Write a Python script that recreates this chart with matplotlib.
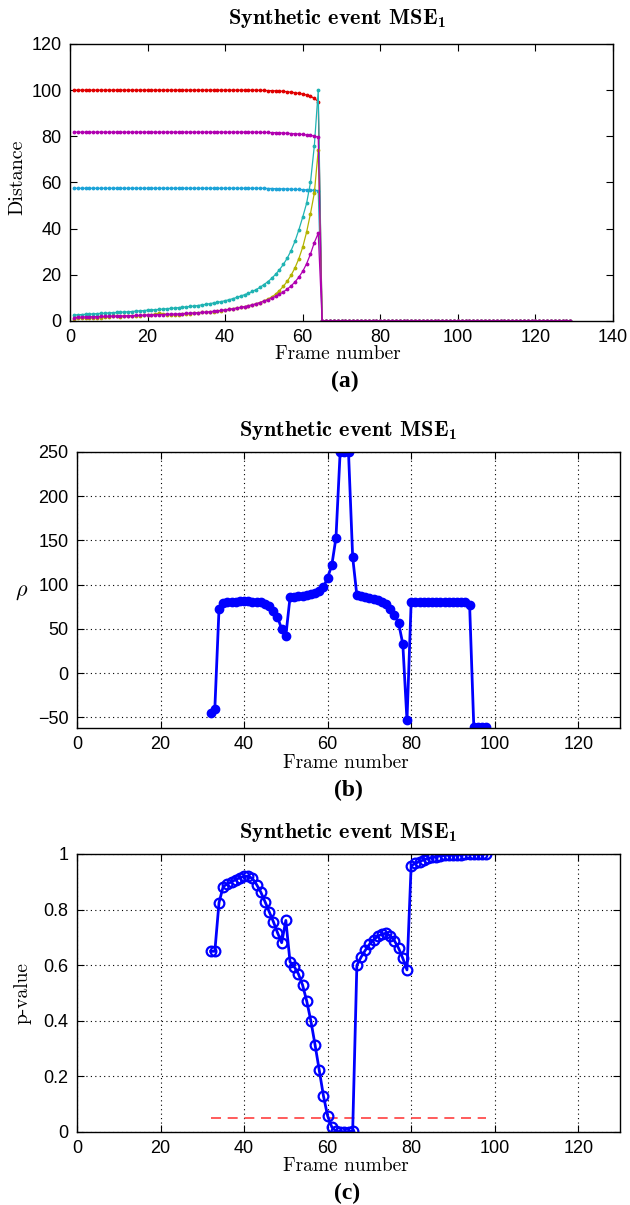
import matplotlib
matplotlib.use("Agg")
import matplotlib.pyplot as plt
from matplotlib.ticker import FuncFormatter

# ---- panel (a): distance curves, frames 1..129 ----
frames_a = list(range(1, 130))
zero_tail = [0.0] * 65  # frames 65..129

red_a = [100.0] * 48 + [
    99.9, 99.9, 99.8, 99.8, 99.7, 99.6, 99.5, 99.3, 99.1, 98.9,
    98.6, 98.3, 97.9, 97.3, 96.5, 95.0] + zero_tail
mag_a = [81.8] * 48 + [
    81.7, 81.7, 81.7, 81.6, 81.6, 81.5, 81.4, 81.3, 81.2, 81.1,
    81.0, 80.8, 80.6, 80.4, 80.1, 79.6] + zero_tail
blue_a = [57.5] * 50 + [
    57.4, 57.4, 57.3, 57.3, 57.2, 57.2, 57.1, 57.0, 57.0, 56.9,
    56.8, 56.7, 56.6, 56.5] + zero_tail
cyan_a = [
    2.6, 2.7, 2.8, 2.9, 3.0, 3.1, 3.2, 3.3, 3.4, 3.5,
    3.6, 3.7, 3.8, 3.9, 4.0, 4.1, 4.3, 4.4, 4.5, 4.7,
    4.8, 4.9, 5.0, 5.2, 5.3, 5.5, 5.6, 5.8, 6.0, 6.1,
    6.3, 6.5, 6.7, 7.0, 7.2, 7.5, 7.8, 8.1, 8.4, 8.8,
    9.2, 9.7, 10.2, 10.8, 11.4, 12.0, 12.8, 13.6, 14.6, 15.8,
    17.0, 18.5, 20.2, 22.2, 24.5, 27.2, 30.5, 34.5, 39.5, 45.0,
    51.0, 60.0, 76.0, 100.0] + zero_tail
olive_a = [
    1.0, 1.1, 1.2, 1.3, 1.3, 1.4, 1.4, 1.5, 1.6, 1.8,
    2.2, 2.0, 1.9, 2.0, 2.1, 2.2, 2.2, 2.3, 2.4, 2.5,
    2.7, 3.0, 3.4, 3.2, 2.8, 2.7, 2.7, 2.8, 3.0, 3.1,
    3.2, 3.3, 3.5, 3.8, 3.7, 3.8, 4.0, 4.2, 4.5, 4.8,
    5.0, 5.3, 5.6, 5.9, 6.2, 6.5, 6.9, 7.4, 8.0, 8.7,
    9.5, 10.4, 11.6, 13.2, 15.0, 17.2, 19.8, 23.0, 27.0, 32.0,
    38.5, 46.5, 55.5, 74.0] + zero_tail
mag2_a = [
    1.5, 1.6, 1.7, 1.8, 1.8, 1.9, 1.9, 2.0, 2.0, 2.1,
    2.1, 2.1, 2.2, 2.2, 2.3, 2.3, 2.4, 2.4, 2.5, 2.6,
    2.6, 2.7, 2.8, 2.8, 2.9, 3.0, 3.0, 3.1, 3.2, 3.3,
    3.4, 3.5, 3.6, 3.7, 3.8, 4.0, 4.2, 4.4, 4.6, 4.8,
    5.0, 5.3, 5.6, 5.9, 6.2, 6.6, 7.0, 7.5, 8.0, 8.6,
    9.2, 9.9, 10.7, 11.6, 12.6, 13.8, 15.2, 16.9, 19.0, 21.5,
    24.8, 29.0, 34.0, 38.0] + zero_tail

# ---- panels (b) and (c): frames 32..98 ----
frames_bc = list(range(32, 99))
rho = [
    -45, -40, 72.7, 79, 80.5, 81, 81, 81.2, 81.2, 81.1,
    81, 80.6, 80, 78.5, 76, 70, 63.3, 50, 42.4, 85.6,
    86.2, 86.7, 87.3, 88, 89, 90.5, 93, 97, 108, 122,
    153, 250, 250, 250, 131, 88, 87.2, 86.3, 85.3, 84.2,
    82.8, 81, 78.5, 72, 66, 56.5, 33, -53.5, 80.3, 80.8,
    81, 81, 81, 81, 81, 81, 81, 81, 81, 81,
    80.8, 80.5, 76.5, -61, -61, -61, -61]
pval = [
    0.650, 0.650, 0.825, 0.883, 0.892, 0.900, 0.908, 0.915, 0.920, 0.920,
    0.912, 0.890, 0.863, 0.829, 0.793, 0.757, 0.717, 0.681, 0.761, 0.612,
    0.595, 0.569, 0.529, 0.471, 0.399, 0.313, 0.222, 0.130, 0.058, 0.018,
    0.003, 0.001, 0.001, 0.001, 0.004, 0.599, 0.629, 0.653, 0.675, 0.691,
    0.704, 0.712, 0.715, 0.706, 0.688, 0.661, 0.625, 0.583, 0.958, 0.966,
    0.973, 0.979, 0.984, 0.988, 0.991, 0.993, 0.995, 0.996, 0.997, 0.998,
    0.998, 0.999, 0.999, 0.999, 1.0, 1.0, 1.0]
alpha_level = 0.05

W, H = 630, 1205
plt.rcParams['mathtext.fontset'] = 'cm'
plt.rcParams['font.family'] = ['Liberation Sans', 'DejaVu Sans']

fig = plt.figure(figsize=(W / 100, H / 100), dpi=100)


def box(left, top, right, bottom):
    return [left / W, 1 - bottom / H, (right - left) / W, (bottom - top) / H]


def txt(x, y, s, **kw):
    fig.text(x / W, 1 - y / H, s, ha='center', va='center', **kw)


def style(ax):
    ax.tick_params(direction='in', top=True, right=True, length=5,
                   width=0.8, labelsize=13, pad=6)
    for sp in ax.spines.values():
        sp.set_linewidth(1.0)


title = r'Synthetic event MSE$_\mathregular{1}$'

# (a)
ax = fig.add_axes(box(70, 44, 613, 321))
series = [(red_a, '#e00000'), (blue_a, '#1ca3d8'), (cyan_a, '#1fb3b3'),
          (olive_a, '#b3b300'), (mag2_a, '#b000b0'), (mag_a, '#b000b0')]
for vals, col in series:
    ax.plot(frames_a, vals, color=col, lw=0.9, marker='.', ms=3.5)
ax.set_xlim(0, 140)
ax.set_ylim(0, 120)
ax.set_xticks(range(0, 141, 20))
ax.set_yticks(range(0, 121, 20))
style(ax)
txt(337, 18, title, family='cmb10', fontsize=16)
txt(338, 354, 'Frame number', family='cmr10', fontsize=14)
txt(17, 177, 'Distance', family='cmr10', fontsize=14.5, rotation=90)
txt(345, 381, '(a)', family='Liberation Serif', weight='bold', fontsize=17)

# (b)
ax = fig.add_axes(box(77, 452, 620, 728))
ax.plot(frames_bc, rho, color='#0000ff', lw=2, marker='o', ms=6)
ax.set_xlim(0, 130)
ax.set_ylim(-62, 250)
ax.set_xticks(range(0, 121, 20))
ax.set_yticks(range(-50, 251, 50))
ax.grid(True, color='black', ls=(0, (1, 3)), lw=0.8)
style(ax)
txt(348, 430, title, family='cmb10', fontsize=16)
txt(346, 763, 'Frame number', family='cmr10', fontsize=14)
txt(22, 592, r'$\rho$', fontsize=16)
txt(348, 790, '(b)', family='Liberation Serif', weight='bold', fontsize=17)

# (c)
ax = fig.add_axes(box(77, 854, 620, 1132))
ax.plot([frames_bc[0], frames_bc[-1]], [alpha_level, alpha_level],
        color='#ff4040', lw=1.2, ls=(0, (6, 4)))
ax.plot(frames_bc, pval, color='#0000ff', lw=2, marker='o', ms=7,
        mfc='none', mew=1.6)
ax.set_xlim(0, 130)
ax.set_ylim(0, 1)
ax.set_xticks(range(0, 121, 20))
ax.set_yticks([0, 0.2, 0.4, 0.6, 0.8, 1.0])
ax.yaxis.set_major_formatter(FuncFormatter(lambda v, p: '%g' % v))
ax.grid(True, color='black', ls=(0, (1, 3)), lw=0.8)
style(ax)
txt(348, 832, title, family='cmb10', fontsize=16)
txt(346, 1166, 'Frame number', family='cmr10', fontsize=14)
txt(23, 993, 'p-value', family='cmr10', fontsize=14, rotation=90)
txt(347, 1193, '(c)', family='Liberation Serif', weight='bold', fontsize=17)

fig.savefig('out.png', dpi=100)
